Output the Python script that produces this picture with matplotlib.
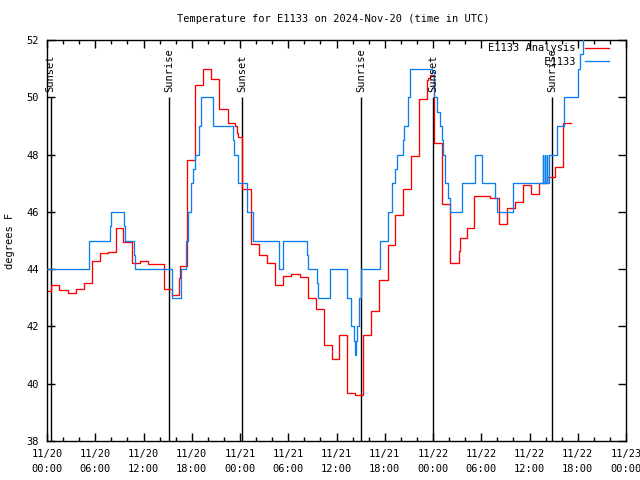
import matplotlib
matplotlib.use("Agg")
import matplotlib.pyplot as plt
from matplotlib.ticker import MultipleLocator

# ---- data (hours since 2024-11-20 00:00 UTC) ----
red_t = [-0.45, 0.55, 1.55, 2.55, 3.55, 4.55, 5.6, 6.55, 7.55, 8.55, 9.5, 10.55, 11.55, 12.55,
         14.55, 15.6, 16.45, 16.6, 17.45, 18.45, 19.45, 20.45, 21.45, 22.45, 23.4, 23.6, 23.8,
         24.3, 25.4, 26.4, 27.4, 28.4, 29.4, 30.4, 31.4, 32.4, 33.4, 34.4, 35.4, 36.37, 37.35,
         38.35, 39.35, 40.3, 41.3, 42.35, 43.3, 44.3, 45.25, 46.25, 47.2, 47.4, 47.6, 48.1,
         49.1, 50.15, 51.2, 51.3, 52.2, 53.15, 55.1, 56.15, 57.2, 58.2, 59.2, 60.2, 61.2,
         62.2, 63.2, 64.2, 65.1]
red_v = [43.23, 43.43, 43.26, 43.16, 43.29, 43.5, 44.3, 44.55, 44.6, 45.45, 44.95, 44.2, 44.3,
         44.18, 43.3, 43.1, 43.7, 44.1, 47.8, 50.43, 51.0, 50.65, 49.6, 49.1, 49.0, 48.75,
         48.63, 46.8, 44.87, 44.5, 44.2, 43.43, 43.75, 43.83, 43.71, 43.0, 42.6, 41.36, 40.87,
         41.71, 39.66, 39.62, 41.71, 42.53, 43.63, 44.86, 45.9, 46.8, 47.95, 49.93, 50.6,
         50.68, 50.77, 48.4, 46.26, 44.2, 44.63, 45.07, 45.42, 46.57, 46.5, 45.59, 46.12,
         46.34, 46.93, 46.64, 47.0, 47.2, 47.58, 49.1, 49.1]

blue_t = [-0.5, 5.18, 5.25, 7.88, 8.0, 9.6, 9.75, 10.8, 10.9, 15.5, 15.6, 16.7, 17.25, 17.5,
          17.95, 18.2, 18.37, 18.94, 19.1, 19.2, 20.7, 23.1, 23.3, 23.75, 24.9, 25.65, 28.9,
          29.4, 32.3, 32.4, 33.55, 33.65, 35.15, 37.35, 37.8, 38.2, 38.36, 38.42, 38.55, 38.8,
          39.05, 41.45, 42.4, 42.87, 43.3, 43.5, 44.3, 44.45, 44.85, 45.15, 47.85, 48.1,
          48.55, 48.9, 49.1, 49.3, 49.5, 49.9, 50.1, 51.6, 53.2, 54.1, 55.7, 55.9, 58.0,
          61.66, 61.7, 61.92, 61.96, 62.18, 62.22, 62.38, 63.4, 64.3, 66.0, 66.3, 66.6, 67.0]
blue_v = [44, 44.5, 45, 45.5, 46, 45.5, 45, 44.5, 44, 43.5, 43, 44, 45, 46, 47, 47.5, 48, 49,
          49.5, 50, 49, 48.5, 48, 47, 46, 45, 44, 45, 44.5, 44, 43.5, 43, 44, 43, 42, 41.5, 41,
          41.5, 42, 43, 44, 45, 46, 47, 47.5, 48, 48.5, 49, 50, 51, 50.9, 50, 49.5, 49, 48.5,
          48, 47, 46.5, 46, 47, 48, 47, 46.5, 46, 47, 48, 47, 48, 47, 48, 47, 48, 49, 50, 51,
          51.5, 52.5, 52.5]

event_times = [0.46, 15.2, 24.3, 39.08, 48.06, 62.83]
event_labels = ["Sunset", "Sunrise", "Sunset", "Sunrise", "Sunset", "Sunrise"]

tick_hours = list(range(0, 73, 6))
tick_labels = ["11/20\n00:00", "11/20\n06:00", "11/20\n12:00", "11/20\n18:00",
               "11/21\n00:00", "11/21\n06:00", "11/21\n12:00", "11/21\n18:00",
               "11/22\n00:00", "11/22\n06:00", "11/22\n12:00", "11/22\n18:00",
               "11/23\n00:00"]

title = "Temperature for E1133 on 2024-Nov-20 (time in UTC)"

# ---- plot ----
plt.rcParams["font.family"] = ["DejaVu Sans Mono"]
plt.rcParams["font.size"] = 7.5

fig = plt.figure(figsize=(6.4, 4.8), dpi=100)
ax = fig.add_axes([47 / 640, 1 - 441 / 480, 579 / 640, 401 / 480])

for t, lab in zip(event_times, event_labels):
    ax.vlines(t, 38, 50, color="black", lw=1.0, zorder=1)
    ax.text(t, 50.2, lab, rotation=90, ha="center", va="bottom", zorder=4)

ax.step(red_t, red_v, where="post", color="#ff0000", lw=0.95, label="E1133 Analysis", zorder=2)
ax.step(blue_t, blue_v, where="post", color="#0a80f0", lw=0.95, label="         E1133", zorder=3)

ax.set_xlim(0, 72)
ax.set_ylim(38, 52)
ax.set_xticks(tick_hours)
ax.set_xticklabels(tick_labels, linespacing=1.55)
ax.xaxis.set_minor_locator(MultipleLocator(2))
ax.set_yticks(range(38, 53, 2))
ax.tick_params(which="both", direction="in", top=True, right=True, width=1.0, color="black")
ax.tick_params(which="major", length=6, pad=6)
ax.tick_params(which="minor", length=3)
for s in ax.spines.values():
    s.set_linewidth(1.0)

leg = ax.legend(loc="upper right", bbox_to_anchor=(0.9706, 0.992), borderaxespad=0,
                borderpad=0, frameon=False, markerfirst=False, handlelength=2.3,
                handletextpad=0.9, labelspacing=0.35)

fig.text(333 / 640, 1 - 19 / 480, title, ha="center", va="center")
fig.text(10 / 640, 0.499, "degrees F", rotation=90, ha="center", va="center")

fig.savefig("out.png", dpi=100)
